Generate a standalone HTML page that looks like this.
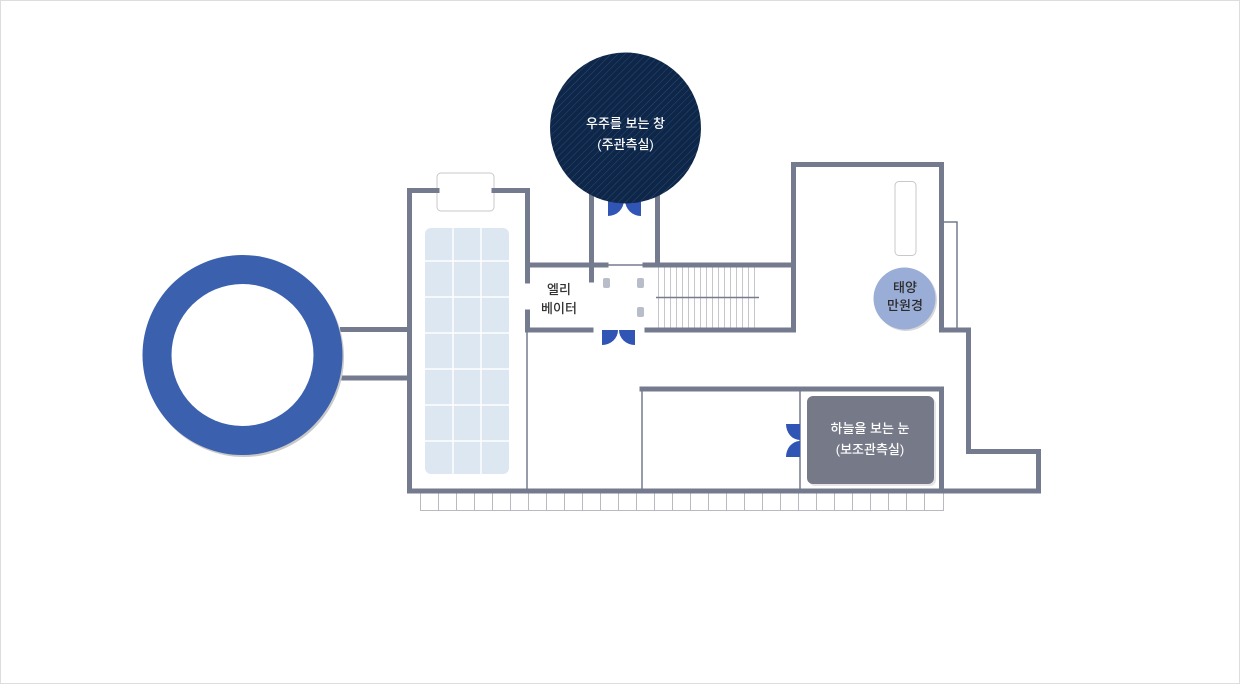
<!DOCTYPE html>
<html><head><meta charset="utf-8"><style>
html,body{margin:0;padding:0;background:#fff}
svg{display:block}
text{font-family:"Liberation Sans","Noto Sans CJK KR",sans-serif;font-weight:500}
</style></head><body>
<svg width="1240" height="684" viewBox="0 0 1240 684" xmlns="http://www.w3.org/2000/svg">
<defs>
<pattern id="h" width="5" height="5" patternUnits="userSpaceOnUse" patternTransform="rotate(45)">
<rect width="5" height="5" fill="#0e2648"/><line x1="0" y1="0" x2="0" y2="5" stroke="#2a4a74" stroke-width="1"/>
</pattern>
</defs>
<rect x="0.5" y="0.5" width="1239" height="683" fill="#fff" stroke="#ddd"/>
<line x1="340" y1="329.5" x2="407" y2="329.5" stroke="#747b8e" stroke-width="5"/>
<line x1="340" y1="378" x2="407" y2="378" stroke="#747b8e" stroke-width="5"/>
<circle cx="244" cy="357" r="100" fill="#c9c9c9"/>
<circle cx="242.5" cy="355" r="100" fill="#3a60ae"/>
<circle cx="242.5" cy="355" r="71" fill="#fff"/>
<g stroke="#b9b9c0" stroke-width="1">
<line x1="420" y1="510.5" x2="944" y2="510.5"/>
<line x1="420.5" y1="491" x2="420.5" y2="510"/><line x1="438.5" y1="491" x2="438.5" y2="510"/><line x1="456.5" y1="491" x2="456.5" y2="510"/><line x1="474.5" y1="491" x2="474.5" y2="510"/><line x1="492.5" y1="491" x2="492.5" y2="510"/><line x1="510.5" y1="491" x2="510.5" y2="510"/><line x1="528.5" y1="491" x2="528.5" y2="510"/><line x1="546.5" y1="491" x2="546.5" y2="510"/><line x1="564.5" y1="491" x2="564.5" y2="510"/><line x1="582.5" y1="491" x2="582.5" y2="510"/><line x1="600.5" y1="491" x2="600.5" y2="510"/><line x1="618.5" y1="491" x2="618.5" y2="510"/><line x1="636.5" y1="491" x2="636.5" y2="510"/><line x1="654.5" y1="491" x2="654.5" y2="510"/><line x1="672.5" y1="491" x2="672.5" y2="510"/><line x1="690.5" y1="491" x2="690.5" y2="510"/><line x1="708.5" y1="491" x2="708.5" y2="510"/><line x1="726.5" y1="491" x2="726.5" y2="510"/><line x1="744.5" y1="491" x2="744.5" y2="510"/><line x1="762.5" y1="491" x2="762.5" y2="510"/><line x1="780.5" y1="491" x2="780.5" y2="510"/><line x1="798.5" y1="491" x2="798.5" y2="510"/><line x1="816.5" y1="491" x2="816.5" y2="510"/><line x1="834.5" y1="491" x2="834.5" y2="510"/><line x1="852.5" y1="491" x2="852.5" y2="510"/><line x1="870.5" y1="491" x2="870.5" y2="510"/><line x1="888.5" y1="491" x2="888.5" y2="510"/><line x1="906.5" y1="491" x2="906.5" y2="510"/><line x1="924.5" y1="491" x2="924.5" y2="510"/><line x1="943.5" y1="491" x2="943.5" y2="510"/>
</g>
<rect x="425" y="228" width="84" height="246" rx="6" fill="#dde7f1"/>
<g stroke="#fff" stroke-width="1.5">
<line x1="453" y1="228" x2="453" y2="474"/><line x1="481" y1="228" x2="481" y2="474"/>
<line x1="425" y1="261" x2="509" y2="261"/><line x1="425" y1="297" x2="509" y2="297"/><line x1="425" y1="333" x2="509" y2="333"/><line x1="425" y1="369" x2="509" y2="369"/><line x1="425" y1="405" x2="509" y2="405"/><line x1="425" y1="441" x2="509" y2="441"/>
</g>
<rect x="437" y="173" width="57" height="38" rx="4" fill="#fff" stroke="#c8c8c8"/>
<g stroke="#c5c7cc" stroke-width="1">
<line x1="658.5" y1="267" x2="658.5" y2="328"/><line x1="664.5" y1="267" x2="664.5" y2="328"/><line x1="670.5" y1="267" x2="670.5" y2="328"/><line x1="676.5" y1="267" x2="676.5" y2="328"/><line x1="682.5" y1="267" x2="682.5" y2="328"/><line x1="688.5" y1="267" x2="688.5" y2="328"/><line x1="694.5" y1="267" x2="694.5" y2="328"/><line x1="700.5" y1="267" x2="700.5" y2="328"/><line x1="706.5" y1="267" x2="706.5" y2="328"/><line x1="712.5" y1="267" x2="712.5" y2="328"/><line x1="718.5" y1="267" x2="718.5" y2="328"/><line x1="724.5" y1="267" x2="724.5" y2="328"/><line x1="730.5" y1="267" x2="730.5" y2="328"/><line x1="736.5" y1="267" x2="736.5" y2="328"/><line x1="742.5" y1="267" x2="742.5" y2="328"/><line x1="748.5" y1="267" x2="748.5" y2="328"/><line x1="754.5" y1="267" x2="754.5" y2="328"/>
</g>
<line x1="656" y1="297.5" x2="759" y2="297.5" stroke="#747b8e" stroke-width="1.5"/>
<g stroke="#747b8e" stroke-width="5" fill="none" stroke-linecap="square">
<polyline points="437,190.5 409.5,190.5 409.5,491"/>
<polyline points="494,190.5 527.5,190.5 527.5,281"/>
<polyline points="527.5,312 527.5,330 591,330"/>
<polyline points="527.5,265 606,265"/>
<polyline points="591.5,196 591.5,280"/>
<polyline points="657.5,196 657.5,265"/>
<polyline points="645,265 793.5,265"/>
<polyline points="647,330 793.5,330 793.5,164.5 941.5,164.5 941.5,330 968.5,330 968.5,451.5 1038.5,451.5 1038.5,491"/>
<polyline points="409.5,491 1038.5,491"/>
<polyline points="642,389 941.5,389 941.5,491"/>
</g>
<g stroke="#747b8e" stroke-width="1.5" fill="none">
<line x1="527" y1="330" x2="527" y2="491"/>
<line x1="607" y1="265" x2="645" y2="265"/>
<line x1="642" y1="389" x2="642" y2="491"/>
<line x1="800" y1="389" x2="800" y2="491"/>
<polyline points="944,222 957,222 957,330"/>
</g>
<g fill="#b9bdc9">
<rect x="603" y="278" width="7" height="10" rx="2"/>
<rect x="637" y="278" width="7" height="10" rx="2"/>
<rect x="637" y="307" width="7" height="10" rx="2"/>
</g>
<text x="559" y="294" font-size="13" text-anchor="middle" fill="#333">엘리</text>
<text x="559" y="313" font-size="13" text-anchor="middle" fill="#333">베이터</text>
<g fill="#3055b4">
<path d="M608,200 L624,200 A16 16 0 0 1 608,216 Z"/>
<path d="M641,200 L625,200 A16 16 0 0 0 641,216 Z"/>
<path d="M602,330 L618,330 A16 15 0 0 1 602,345 Z"/>
<path d="M635,330 L619,330 A16 15 0 0 0 635,345 Z"/>
<path d="M800,424 L786,424 A14 16 0 0 0 800,440 Z"/>
<path d="M800,457 L786,457 A14 16 0 0 1 800,441 Z"/>
</g>
<circle cx="625.5" cy="128" r="75.5" fill="url(#h)"/>
<text x="625.5" y="128" font-size="13" text-anchor="middle" fill="#fff">우주를 보는 창</text>
<text x="625.5" y="149" font-size="13" text-anchor="middle" fill="#fff">(주관측실)</text>
<rect x="895" y="181.5" width="21" height="74" rx="4" fill="#fff" stroke="#c8c8c8"/>
<circle cx="906" cy="300" r="31" fill="#d8d8d8"/>
<circle cx="904.5" cy="298.5" r="31" fill="#9aadd6"/>
<text x="905" y="292" font-size="13" text-anchor="middle" fill="#2b2b2b">태양</text>
<text x="905" y="310" font-size="13" text-anchor="middle" fill="#2b2b2b">만원경</text>
<rect x="809" y="398" width="127" height="88" rx="6" fill="#e5e5e8"/>
<rect x="807" y="396" width="127" height="88" rx="6" fill="#767a88"/>
<text x="870" y="433" font-size="13" text-anchor="middle" fill="#fff">하늘을 보는 눈</text>
<text x="870" y="454" font-size="13" text-anchor="middle" fill="#fff">(보조관측실)</text>
</svg>
</body></html>
